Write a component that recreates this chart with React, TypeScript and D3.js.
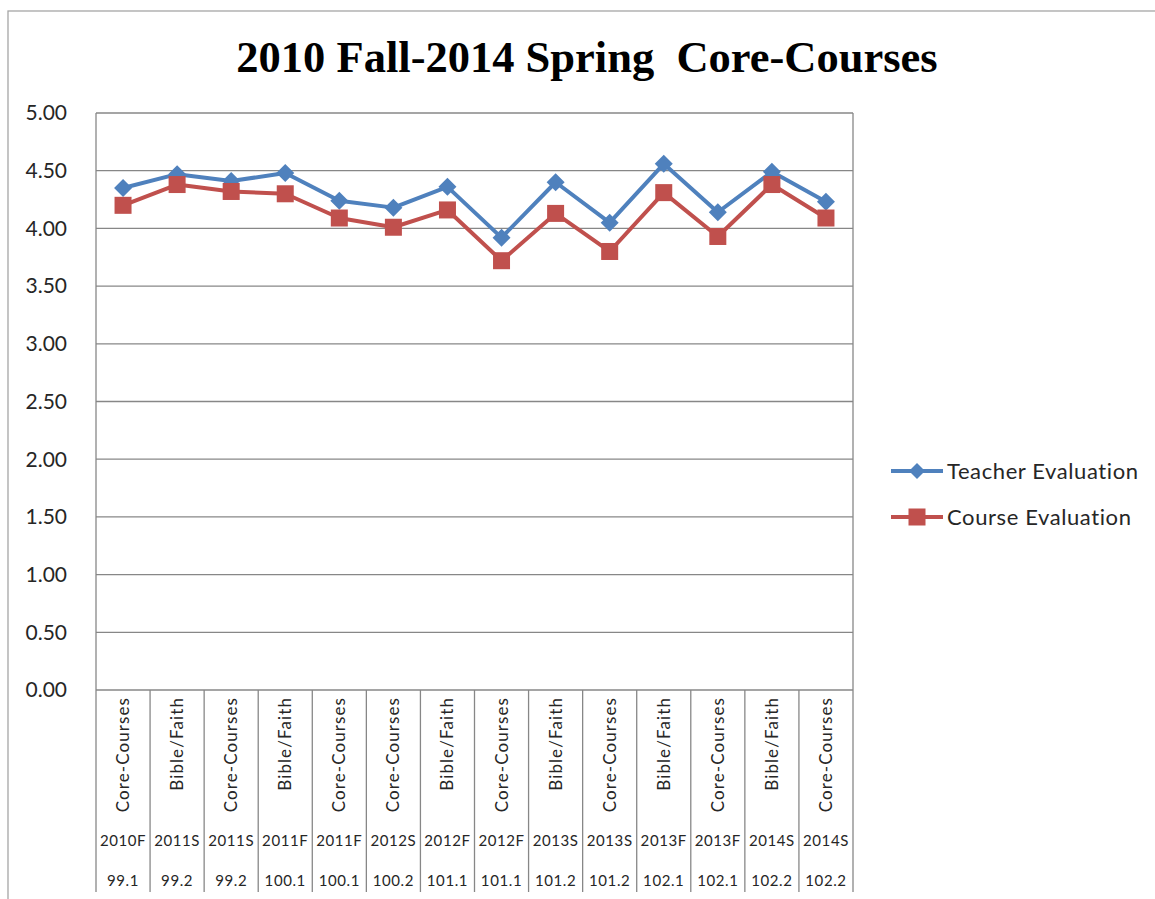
import React from "react";
import * as d3 from "d3";

const categories = ["Core-Courses","Bible/Faith","Core-Courses","Bible/Faith","Core-Courses","Core-Courses","Bible/Faith","Core-Courses","Bible/Faith","Core-Courses","Bible/Faith","Core-Courses","Bible/Faith","Core-Courses"];
const terms = ["2010F","2011S","2011S","2011F","2011F","2012S","2012F","2012F","2013S","2013S","2013F","2013F","2014S","2014S"];
const years = ["99.1","99.2","99.2","100.1","100.1","100.2","101.1","101.1","101.2","101.2","102.1","102.1","102.2","102.2"];
const teacherEval = [4.35,4.47,4.41,4.48,4.24,4.18,4.36,3.92,4.40,4.05,4.56,4.14,4.49,4.23];
const courseEval = [4.20,4.38,4.32,4.30,4.09,4.01,4.16,3.72,4.13,3.80,4.31,3.93,4.38,4.09];
const yTicks = [0,0.5,1,1.5,2,2.5,3,3.5,4,4.5,5];
const title = "2010 Fall-2014 Spring  Core-Courses";
const seriesNames = ["Teacher Evaluation","Course Evaluation"];

const BLUE = "#4F81BD";
const RED = "#C0504D";
const GRID = "#878787";
const TEXT = "#262626";
const SANS = "Lato, 'Liberation Sans', sans-serif";

export default function App() {
  const W = 1155, H = 899;
  const left = 96, right = 853, top = 113, bottom = 690;
  const x = d3.scaleBand<number>().domain(d3.range(categories.length)).range([left, right]);
  const y = d3.scaleLinear().domain([0, 5]).range([bottom, top]);
  const cx = (i: number) => (x(i) as number) + x.bandwidth() / 2;
  const line = d3.line<number>().x((_, i) => cx(i)).y(d => y(d));
  const diamond = (px: number, py: number, r = 9) => `M${px},${py - r}L${px + r},${py}L${px},${py + r}L${px - r},${py}Z`;
  const sq = 17;
  const tableBottom = 892;
  const bounds = d3.range(categories.length + 1).map(i => i < categories.length ? (x(i) as number) : right);

  return (
    <svg width={W} height={H} style={{ position: "absolute", left: 0, top: 0, background: "#fff" }}>
      <rect x={8} y={11} width={W} height={H} fill="#fff" stroke="#a6a6a6" strokeWidth={1.3} />
      <text x={587} y={72} textAnchor="middle" fontFamily="'Liberation Serif', 'Times New Roman', serif" fontWeight="bold" fontSize={44.5} fill="#000" style={{ whiteSpace: "pre" }}>{title}</text>
      {yTicks.map(t => (
        <g key={t}>
          <line x1={left} x2={right} y1={y(t)} y2={y(t)} stroke={GRID} strokeWidth={1.3} />
          <text x={67} y={y(t)} dy="0.35em" textAnchor="end" fontFamily={SANS} fontSize={21} fill={TEXT}>{t.toFixed(2)}</text>
        </g>
      ))}
      <line x1={right} x2={right} y1={top} y2={bottom} stroke={GRID} strokeWidth={1.3} />
      {bounds.map((bx, i) => (
        <line key={i} x1={bx} x2={bx} y1={i === 0 ? top : bottom} y2={tableBottom} stroke={GRID} strokeWidth={1.3} />
      ))}
      {categories.map((c, i) => (
        <g key={i}>
          <text transform={`translate(${cx(i) + 6},${697}) rotate(-90)`} textAnchor="end" fontFamily={SANS} fontSize={17} letterSpacing={1.1} fill={TEXT}>{c}</text>
          <text x={cx(i)} y={846} textAnchor="middle" fontFamily={SANS} fontSize={15} letterSpacing={0.6} fill={TEXT}>{terms[i]}</text>
          <text x={cx(i)} y={886} textAnchor="middle" fontFamily={SANS} fontSize={15} letterSpacing={0.6} fill={TEXT}>{years[i]}</text>
        </g>
      ))}
      <path d={line(teacherEval) || ""} fill="none" stroke={BLUE} strokeWidth={4} strokeLinejoin="round" />
      <path d={line(courseEval) || ""} fill="none" stroke={RED} strokeWidth={4} strokeLinejoin="round" />
      {teacherEval.map((v, i) => (
        <path key={"t" + i} d={diamond(cx(i), y(v))} fill={BLUE} />
      ))}
      {courseEval.map((v, i) => (
        <rect key={"c" + i} x={cx(i) - sq / 2} y={y(v) - sq / 2} width={sq} height={sq} fill={RED} />
      ))}
      {seriesNames.map((n, k) => {
        const ly = 471 + k * 46;
        const col = k === 0 ? BLUE : RED;
        return (
          <g key={n}>
            <line x1={891} x2={943} y1={ly} y2={ly} stroke={col} strokeWidth={4} />
            {k === 0 ? <path d={diamond(917, ly, 8)} fill={col} /> : <rect x={917 - sq / 2} y={ly - sq / 2} width={sq} height={sq} fill={col} />}
            <text x={947} y={ly} dy="0.35em" fontFamily={SANS} fontSize={22} letterSpacing={0.6} fill={TEXT}>{n}</text>
          </g>
        );
      })}
    </svg>
  );
}
